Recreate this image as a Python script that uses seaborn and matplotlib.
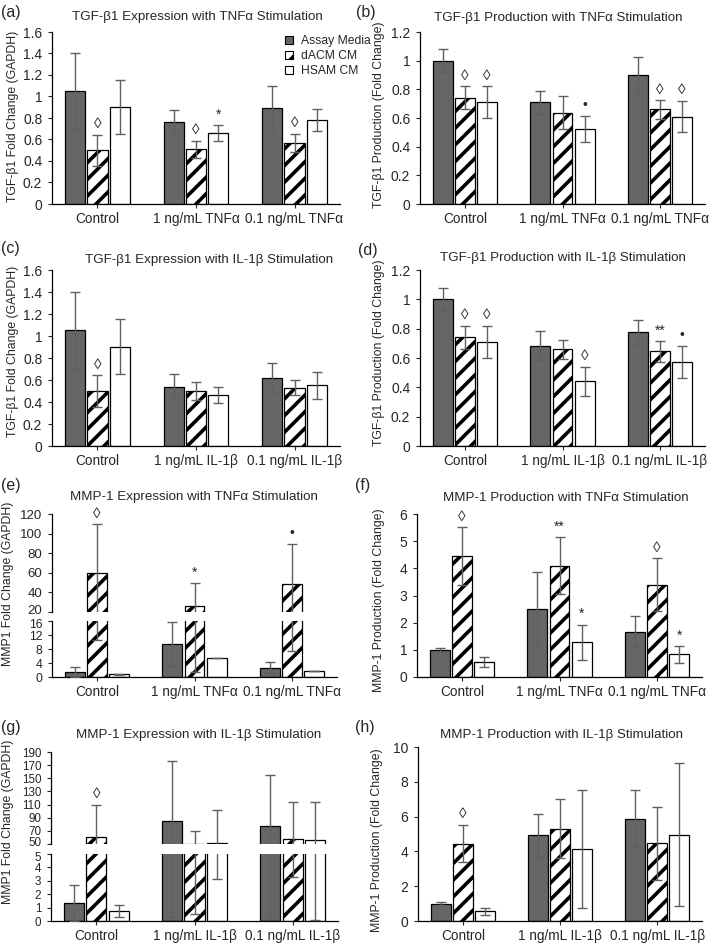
import numpy as np
import pandas as pd
import seaborn as sns
import matplotlib.pyplot as plt
import matplotlib.transforms as mtransforms
from matplotlib.patches import Patch

# Figure size in pixels (saved at dpi=100)
W, H = 709, 946

treatments = ['Assay Media', 'dACM CM', 'HSAM CM']
tnf_groups = ['Control', '1 ng/mL TNFα', '0.1 ng/mL TNFα']
il_groups = ['Control', '1 ng/mL IL-1β', '0.1 ng/mL IL-1β']

# Each list: one row per treatment, columns follow the group order
# (a) TGF-b1 expression, TNFa
a_mean = [[1.05, 0.76, 0.89], [0.50, 0.51, 0.57], [0.90, 0.66, 0.78]]
a_err = [[0.35, 0.115, 0.21], [0.145, 0.08, 0.085], [0.25, 0.075, 0.105]]
a_sig = [['', '', ''], ['◊', '◊', '◊'], ['', '*', '']]

# (b) TGF-b1 production, TNFa
b_mean = [[1.00, 0.71, 0.90], [0.74, 0.635, 0.66], [0.71, 0.525, 0.61]]
b_err = [[0.08, 0.08, 0.125], [0.08, 0.115, 0.065], [0.11, 0.09, 0.11]]
b_sig = [['', '', ''], ['◊', '', '◊'], ['◊', '•', '◊']]

# (c) TGF-b1 expression, IL-1b
c_mean = [[1.05, 0.54, 0.615], [0.50, 0.50, 0.53], [0.90, 0.465, 0.55]]
c_err = [[0.35, 0.115, 0.135], [0.145, 0.085, 0.07], [0.25, 0.075, 0.12]]
c_sig = [['', '', ''], ['◊', '', ''], ['', '', '']]

# (d) TGF-b1 production, IL-1b
d_mean = [[1.00, 0.685, 0.775], [0.74, 0.66, 0.645], [0.71, 0.44, 0.575]]
d_err = [[0.08, 0.10, 0.085], [0.08, 0.065, 0.07], [0.11, 0.10, 0.11]]
d_sig = [['', '', ''], ['◊', '', '**'], ['◊', '◊', '•']]

# (e) MMP-1 expression, TNFa (broken axis)
e_mean = [[1.4, 9.5, 2.7], [60.0, 26.0, 48.5], [0.8, 5.3, 1.7]]
e_err_lo = [[1.4, 6.3, 1.5], [49.5, 24.5, 41.0], [0.15, 0.0, 0.1]]
e_err_hi = [[1.4, 6.3, 1.5], [49.5, 23.5, 41.0], [0.15, 0.0, 0.1]]
e_sig = [['', '', ''], ['◊', '*', '•'], ['', '', '']]

# (f) MMP-1 production, TNFa
f_mean = [[1.0, 2.5, 1.67], [4.45, 4.1, 3.4], [0.55, 1.28, 0.83]]
f_err = [[0.08, 1.35, 0.57], [1.07, 1.05, 0.97], [0.2, 0.65, 0.32]]
f_sig = [['', '', ''], ['◊', '**', '◊'], ['', '*', '*']]

# (g) MMP-1 expression, IL-1b (broken axis)
g_mean = [[1.35, 85.0, 77.0], [60.5, 50.5, 58.0], [0.75, 51.5, 56.5]]
g_err_lo = [[1.35, 84.7, 76.7], [49.0, 50.0, 54.7], [0.45, 48.4, 56.4]]
g_err_hi = [[1.35, 92.0, 78.0], [49.0, 20.0, 55.5], [0.45, 50.5, 57.0]]
g_sig = [['', '', ''], ['◊', '', ''], ['', '', '']]

# (h) MMP-1 production, IL-1b
h_mean = [[1.0, 4.92, 5.88], [4.45, 5.3, 4.47], [0.55, 4.15, 4.97]]
h_err = [[0.08, 1.25, 1.63], [1.07, 1.7, 2.1], [0.2, 3.4, 4.12]]
h_sig = [['', '', ''], ['◊', '', ''], ['', '', '']]

# Y tick labels
tgf_expr_ticks = [0, 0.2, 0.4, 0.6, 0.8, 1, 1.2, 1.4, 1.6]
tgf_prod_ticks = [0, 0.2, 0.4, 0.6, 0.8, 1, 1.2]
e_low_ticks = [0, 4, 8, 12, 16]
e_high_ticks = [20, 40, 60, 80, 100, 120]
f_ticks = [0, 1, 2, 3, 4, 5, 6]
g_low_ticks = [0, 1, 2, 3, 4, 5]
g_high_ticks = [50, 70, 90, 110, 130, 150, 170, 190]
h_ticks = [0, 2, 4, 6, 8, 10]

# Style
sns.set_style('ticks')
plt.rcParams['font.family'] = ['Liberation Sans', 'DejaVu Sans']
plt.rcParams['hatch.linewidth'] = 2.6
plt.rcParams['axes.linewidth'] = 0.9

palette = {'Assay Media': '#666666', 'dACM CM': 'white', 'HSAM CM': 'white'}
err_color = '#606060'


def box(x0, y0, x1, y1):
    return [x0 / W, 1 - y1 / H, (x1 - x0) / W, (y1 - y0) / H]


def draw_bars(ax, groups, mean, lo, hi, sig, ticks, ylim, ysize=10):
    df = pd.DataFrame({
        'group': [g for t in treatments for g in groups],
        'treatment': [t for t in treatments for g in groups],
        'value': [v for row in mean for v in row],
    })
    sns.barplot(data=df, x='group', y='value', hue='treatment',
                order=groups, hue_order=treatments, palette=palette,
                width=0.68, gap=0.1, edgecolor='black', linewidth=0.9,
                errorbar=None, legend=False, ax=ax)
    bar_conts = list(ax.containers)
    for i, cont in enumerate(bar_conts):
        xs, ys, el, eh = [], [], [], []
        for p in cont:
            xc = p.get_x() + p.get_width() / 2
            j = int(round(xc))
            if i == 1:
                p.set_hatch('//')
            xs.append(xc)
            ys.append(p.get_height())
            el.append(lo[i][j])
            eh.append(hi[i][j])
            if sig[i][j]:
                ax.annotate(sig[i][j], (xc, p.get_height() + hi[i][j]),
                            xytext=(0, 2.5), textcoords='offset points',
                            ha='center', va='bottom',
                            fontsize=11 if sig[i][j] == '◊' else 10)
        ax.errorbar(xs, ys, yerr=[el, eh], fmt='none', ecolor=err_color,
                    elinewidth=1.0, capsize=3.5, capthick=1.0, zorder=3)
    ax.set_ylim(*ylim)
    ax.set_yticks(ticks)
    ax.set_yticklabels([f'{t:g}' for t in ticks])
    ax.set_xlabel('')
    ax.set_ylabel('')
    ax.tick_params(axis='y', length=3, width=0.8, pad=4, labelsize=ysize)
    ax.tick_params(axis='x', length=3, width=0.8, pad=3, labelsize=9.8)
    for s in ['top', 'right']:
        ax.spines[s].set_visible(False)
    for s in ['left', 'bottom']:
        ax.spines[s].set_color('black')
    ax.set_facecolor('none')


def broken_axes(ax_top, ax_low):
    ax_top.spines['bottom'].set_visible(False)
    ax_top.tick_params(axis='x', bottom=False, labelbottom=False)
    # nudge the two labels next to the break apart a little
    up = mtransforms.ScaledTranslation(0, 1.5 / 72, fig.dpi_scale_trans)
    down = mtransforms.ScaledTranslation(0, -1.5 / 72, fig.dpi_scale_trans)
    lab = ax_top.get_yticklabels()[0]
    lab.set_transform(lab.get_transform() + up)
    lab = ax_low.get_yticklabels()[-1]
    lab.set_transform(lab.get_transform() + down)


fig = plt.figure(figsize=(W / 100, H / 100), dpi=100)

# (a)
ax_a = fig.add_axes(box(52, 32, 340, 204))
draw_bars(ax_a, tnf_groups, a_mean, a_err, a_err, a_sig, tgf_expr_ticks, (0, 1.6))
# (b)
ax_b = fig.add_axes(box(420, 32, 705, 204))
draw_bars(ax_b, tnf_groups, b_mean, b_err, b_err, b_sig, tgf_prod_ticks, (0, 1.2))
# (c)
ax_c = fig.add_axes(box(52, 270, 340, 446))
draw_bars(ax_c, il_groups, c_mean, c_err, c_err, c_sig, tgf_expr_ticks, (0, 1.6))
# (d)
ax_d = fig.add_axes(box(420, 270, 705, 446))
draw_bars(ax_d, il_groups, d_mean, d_err, d_err, d_sig, tgf_prod_ticks, (0, 1.2))
# (e) broken axis
ax_e1 = fig.add_axes(box(52, 514, 337, 612))
draw_bars(ax_e1, tnf_groups, e_mean, e_err_lo, e_err_hi, e_sig, e_high_ticks, (20, 120), 9.5)
ax_e2 = fig.add_axes(box(52, 621, 337, 677))
draw_bars(ax_e2, tnf_groups, e_mean, e_err_lo, e_err_hi, [['', '', '']] * 3, e_low_ticks, (0, 16), 8.8)
broken_axes(ax_e1, ax_e2)
# (f)
ax_f = fig.add_axes(box(417, 514, 702, 677))
draw_bars(ax_f, tnf_groups, f_mean, f_err, f_err, f_sig, f_ticks, (0, 6))
# (g) broken axis
ax_g1 = fig.add_axes(box(51, 752, 338, 844))
draw_bars(ax_g1, il_groups, g_mean, g_err_lo, g_err_hi, g_sig, g_high_ticks, (50, 190), 8.4)
ax_g2 = fig.add_axes(box(51, 854, 338, 921))
draw_bars(ax_g2, il_groups, g_mean, g_err_lo, g_err_hi, [['', '', '']] * 3, g_low_ticks, (0, 5), 8.4)
broken_axes(ax_g1, ax_g2)
# (h)
ax_h = fig.add_axes(box(418, 747, 702, 921))
draw_bars(ax_h, il_groups, h_mean, h_err, h_err, h_sig, h_ticks, (0, 10))

# Titles, y labels, panel letters
titles = [
    ('TGF-β1 Expression with TNFα Stimulation', 197, 17),
    ('TGF-β1 Production with TNFα Stimulation', 558, 18),
    ('TGF-β1 Expression with IL-1β Stimulation', 209, 260),
    ('TGF-β1 Production with IL-1β Stimulation', 563, 258),
    ('MMP-1 Expression with TNFα Stimulation', 194, 497),
    ('MMP-1 Production with TNFα Stimulation', 566, 498),
    ('MMP-1 Expression with IL-1β Stimulation', 199, 735),
    ('MMP-1 Production with IL-1β Stimulation', 562, 735),
]
for t, x, y in titles:
    fig.text(x / W, 1 - y / H, t, ha='center', va='center', fontsize=9.6)

ylabels = [
    ('TGF-β1 Fold Change (GAPDH)', 13, 116),
    ('TGF-β1 Production (Fold Change)', 379, 115),
    ('TGF-β1 Fold Change (GAPDH)', 13, 351),
    ('TGF-β1 Production (Fold Change)', 379, 353),
    ('MMP1 Fold Change (GAPDH)', 8, 584),
    ('MMP-1 Production (Fold Change)', 379, 600),
    ('MMP1 Fold Change (GAPDH)', 8, 822),
    ('MMP-1 Production (Fold Change)', 377, 840),
]
for t, x, y in ylabels:
    fig.text(x / W, 1 - y / H, t, ha='center', va='center', rotation=90, fontsize=8.8)

letters = [('(a)', 1, 12), ('(b)', 356, 12), ('(c)', 1, 248), ('(d)', 358, 250),
           ('(e)', 1, 485), ('(f)', 355, 485), ('(g)', 1, 727), ('(h)', 355, 727)]
for t, x, y in letters:
    fig.text(x / W, 1 - y / H, t, ha='left', va='center', fontsize=11.5)

# Legend (inside panel a)
handles = [Patch(facecolor=palette[t], edgecolor='black', linewidth=0.8,
                 hatch='//' if t == 'dACM CM' else None) for t in treatments]
fig.legend(handles, treatments, loc='upper left', bbox_to_anchor=(285 / W, 1 - 35 / H),
           frameon=False, fontsize=8.7, handlelength=0.7, handleheight=0.7,
           handletextpad=0.6, labelspacing=0.25, borderaxespad=0, borderpad=0)

fig.savefig('out.png', dpi=100)
